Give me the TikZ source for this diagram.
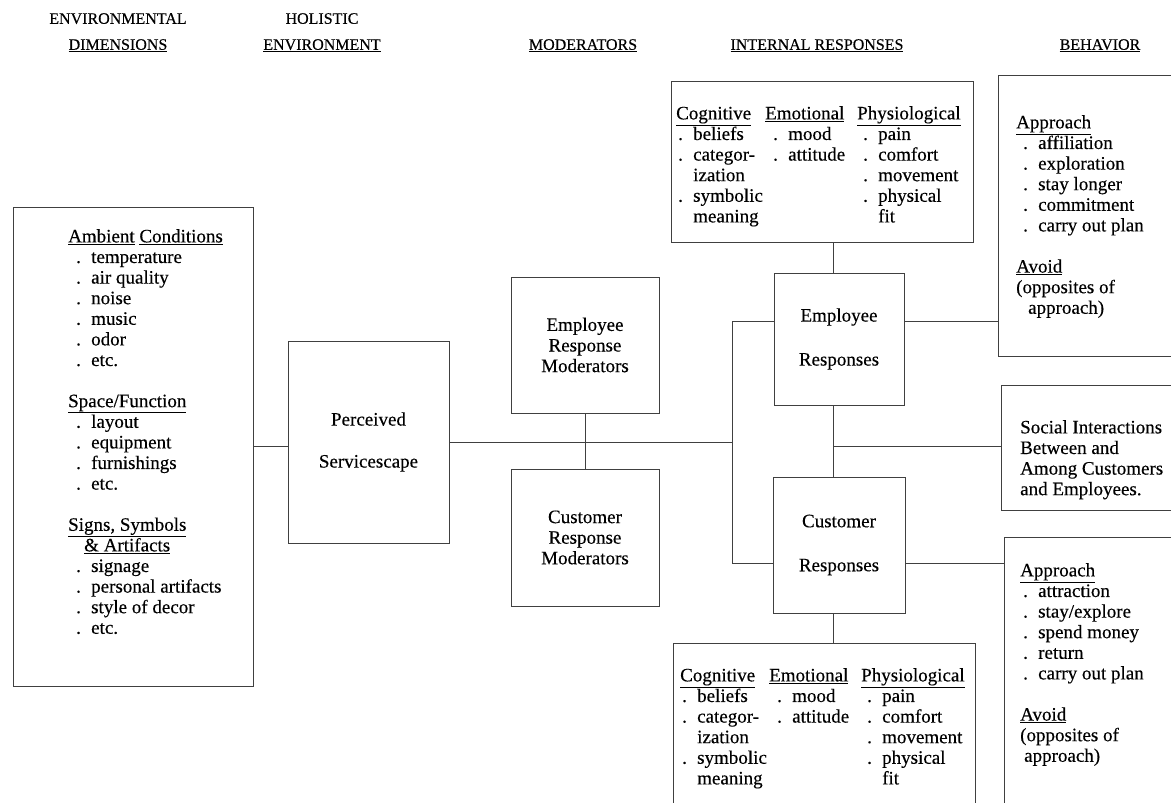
\documentclass[tikz,border=0pt]{standalone}
\usepackage{fontspec}
\setmainfont{Liberation Serif}
\newfontfamily\heavy{Liberation Serif}[FakeBold=0.3]
\newcommand{\bul}[2][7pt]{\hspace*{#1}\makebox[15pt][l]{.}#2}
\newcommand{\irow}[3]{\makebox[89pt][l]{#1}\makebox[92pt][l]{#2}#3}

\begin{document}
\begin{tikzpicture}[x=1pt, y=-1pt,
    box/.style={draw=black!75, line width=0.7pt, inner sep=0pt, align=center, font=\heavy\fontsize{19}{20.6}\selectfont},
    txt/.style={anchor=north west, inner sep=0pt, align=left, font=\heavy\fontsize{19}{20.6}\selectfont},
    hdr/.style={anchor=north, inner sep=0pt, align=center, font=\heavy\fontsize{16}{26}\selectfont},
    wire/.style={draw=black!75, line width=0.7pt}]
    \useasboundingbox (0,0) rectangle (1171,803);
    \clip (0,0) rectangle (1171,803);

    % column headers
    \node[hdr] (HED) at (118,13) {ENVIRONMENTAL\\\underline{DIMENSIONS}};
    \node[hdr] (HHE) at (322,13) {HOLISTIC\\\underline{ENVIRONMENT}};
    \node[hdr] (HMO) at (583,39) {\underline{MODERATORS}};
    \node[hdr] (HIR) at (817,39) {\underline{INTERNAL RESPONSES}};
    \node[hdr] (HBE) at (1100,39) {\underline{BEHAVIOR}};

    % boxes
    \node[box, minimum width=240pt, minimum height=479pt] (ENV) at (133,446.5) {};
    \node[box, minimum width=161pt, minimum height=202pt] (PS) at (368.5,442) {Perceived\\[21.4pt]Servicescape};
    \node[box, minimum width=148pt, minimum height=136pt] (EM) at (585,345) {Employee\\Response\\Moderators};
    \node[box, minimum width=148pt, minimum height=137pt] (CM) at (585,537.5) {Customer\\Response\\Moderators};
    \node[box, minimum width=302pt, minimum height=161pt] (EI) at (822,161.5) {};
    \node[box, minimum width=130pt, minimum height=132pt] (ER) at (839,339) {Employee\\[23.4pt]Responses};
    \node[box, minimum width=132pt, minimum height=136pt] (CR) at (839,545) {Customer\\[23.4pt]Responses};
    \node[box, minimum width=302pt, minimum height=200pt] (CI) at (824,743) {};
    \node[box, minimum width=200pt, minimum height=281pt] (EB) at (1098,215.5) {};
    \node[box, minimum width=200pt, minimum height=125pt] (SI) at (1101,447.5) {};
    \node[box, minimum width=200pt, minimum height=300pt] (CB) at (1104,687) {};

    % box contents
    \node[txt] (ENVtxt) at (68,229) {\underline{Ambient} \underline{Conditions}\\
        \bul[8pt]{temperature}\\ \bul[8pt]{air quality}\\ \bul[8pt]{noise}\\
        \bul[8pt]{music}\\ \bul[8pt]{odor}\\ \bul[8pt]{etc.}\\[20.6pt]
        \underline{Space/Function}\\
        \bul[8pt]{layout}\\ \bul[8pt]{equipment}\\ \bul[8pt]{furnishings}\\ \bul[8pt]{etc.}\\[20.6pt]
        \underline{Signs, Symbols}\\ \hspace*{16pt}\underline{\& Artifacts}\\
        \bul[8pt]{signage}\\ \bul[8pt]{personal artifacts}\\ \bul[8pt]{style of decor}\\ \bul[8pt]{etc.}};
    \node[txt] (EItxt) at (676,106) {\irow{\underline{Cognitive}}{\underline{Emotional}}{\underline{Physiological}}\\
        \irow{\bul[2pt]{beliefs}}{\bul[8pt]{mood}}{\bul[6pt]{pain}}\\
        \irow{\bul[2pt]{categor-}}{\bul[8pt]{attitude}}{\bul[6pt]{comfort}}\\
        \irow{\hspace*{17pt}ization}{}{\bul[6pt]{movement}}\\
        \irow{\bul[2pt]{symbolic}}{}{\bul[6pt]{physical}}\\
        \irow{\hspace*{17pt}meaning}{}{\hspace*{21pt}fit}};
    \node[txt] (CItxt) at (680,668) {\irow{\underline{Cognitive}}{\underline{Emotional}}{\underline{Physiological}}\\
        \irow{\bul[2pt]{beliefs}}{\bul[8pt]{mood}}{\bul[6pt]{pain}}\\
        \irow{\bul[2pt]{categor-}}{\bul[8pt]{attitude}}{\bul[6pt]{comfort}}\\
        \irow{\hspace*{17pt}ization}{}{\bul[6pt]{movement}}\\
        \irow{\bul[2pt]{symbolic}}{}{\bul[6pt]{physical}}\\
        \irow{\hspace*{17pt}meaning}{}{\hspace*{21pt}fit}};
    \node[txt] (EBtxt) at (1016,115) {\underline{Approach}\\
        \bul{affiliation}\\ \bul{exploration}\\ \bul{stay longer}\\ \bul{commitment}\\ \bul{carry out plan}\\[20.6pt]
        \underline{Avoid}\\ (opposites of\\ \hspace*{12pt}approach)};
    \node[txt] (SItxt) at (1020,420) {Social Interactions\\ Between and\\ Among Customers\\ and Employees.};
    \node[txt] (CBtxt) at (1020,563) {\underline{Approach}\\
        \bul[3pt]{attraction}\\ \bul[3pt]{stay/explore}\\ \bul[3pt]{spend money}\\ \bul[3pt]{return}\\ \bul[3pt]{carry out plan}\\[20.6pt]
        \underline{Avoid}\\ (opposites of\\ \hspace*{4pt}approach)};

    % junctions
    \coordinate (JE) at (732,321);
    \coordinate (JC) at (732,563);
    \coordinate (JM) at (833,446);

    % connectors
    \draw[wire] (ENV.east) -- (ENV.east -| PS.west);
    \draw[wire] (PS.east) -- (PS.east -| JE);
    \draw[wire] (EM.south) -- (EM.south |- CM.north);
    \draw[wire] (JE) -- (JC);
    \draw[wire] (JE) -- (JE -| ER.west);
    \draw[wire] (JC) -- (JC -| CR.west);
    \draw[wire] (JE -| ER.east) -- (JE -| EB.west);
    \draw[wire] (JC -| CR.east) -- (JC -| CB.west);
    \draw[wire] (JM |- EI.south) -- (JM |- ER.north);
    \draw[wire] (JM |- ER.south) -- (JM |- CR.north);
    \draw[wire] (JM) -- (JM -| SI.west);
    \draw[wire] (JM |- CR.south) -- (JM |- CI.north);
\end{tikzpicture}
\end{document}
